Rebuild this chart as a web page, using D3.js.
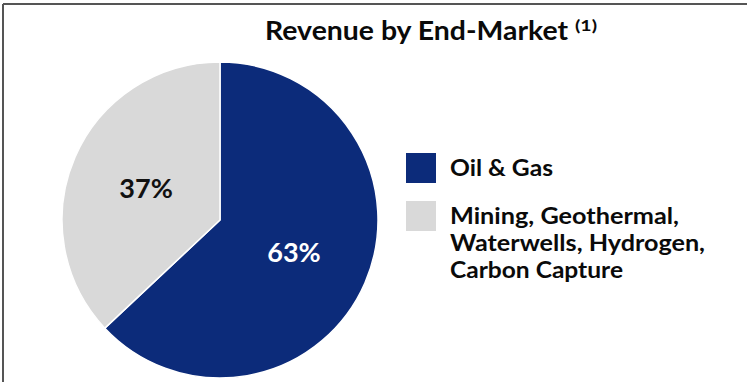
<!DOCTYPE html>
<html>
<head>
<meta charset="utf-8">
<script src="https://cdn.jsdelivr.net/npm/d3@7"></script>
<style>
  html, body { margin: 0; padding: 0; background: #fff; }
  svg { display: block; }
  text { font-family: Lato, "Open Sans", sans-serif; font-weight: 700; }
</style>
</head>
<body>
<svg id="chart" width="747" height="382"></svg>
<script>
const categories = ["Oil & Gas", "Mining, Geothermal, Waterwells, Hydrogen, Carbon Capture"];
const legendLines = [["Oil & Gas"], ["Mining, Geothermal,", "Waterwells, Hydrogen,", "Carbon Capture"]];
const values = [63, 37];
const labels = ["63%", "37%"];
const colors = ["#0c2b7a", "#d9d9d9"];
const labelColors = ["#ffffff", "#111111"];
const titleText = "Revenue by End-Market";
const titleNote = "(1)";

// layout-only widths (px) used to fit text to the reference
const legendWidths = [[103], [229, 255, 173]];

const svg = d3.select("#chart");
const W = 747, H = 382;

// frame (top and left border)
svg.append("line").attr("x1", 3).attr("x2", W).attr("y1", 4).attr("y2", 4)
  .attr("stroke", "#555").attr("stroke-width", 2);
svg.append("line").attr("x1", 3).attr("x2", 3).attr("y1", 4).attr("y2", H)
  .attr("stroke", "#555").attr("stroke-width", 2);

// title
svg.append("text").attr("x", 265).attr("y", 40)
  .attr("font-size", 26).attr("fill", "#0a0a0a")
  .attr("textLength", 303).attr("lengthAdjust", "spacingAndGlyphs")
  .text(titleText);
svg.append("text").attr("x", 575).attr("y", 31)
  .attr("font-size", 15).attr("fill", "#0a0a0a")
  .attr("textLength", 22).attr("lengthAdjust", "spacingAndGlyphs")
  .text(titleNote);

// pie
const cx = 220, cy = 220, R = 158;
const pie = d3.pie().sort(null).value(d => d)(values);
const arc = d3.arc().innerRadius(0).outerRadius(R);
const labelArc = d3.arc().innerRadius(R * 0.51).outerRadius(R * 0.51);
const g = svg.append("g").attr("transform", `translate(${cx},${cy})`);
g.selectAll("path").data(pie).join("path")
  .attr("d", arc)
  .attr("fill", (d, i) => colors[i])
  .attr("stroke", "#fff").attr("stroke-width", 1.5).attr("stroke-linejoin", "round");
g.selectAll("text.lbl").data(pie).join("text").attr("class", "lbl")
  .attr("transform", d => `translate(${labelArc.centroid(d)})`)
  .attr("text-anchor", "middle").attr("dy", "0.36em")
  .attr("font-size", 27)
  .attr("fill", (d, i) => labelColors[i])
  .text((d, i) => labels[i]);

// legend
const legY = [153, 201];
const lg = svg.append("g");
categories.forEach((c, i) => {
  lg.append("rect").attr("x", 406).attr("y", legY[i]).attr("width", 30).attr("height", 30)
    .attr("fill", colors[i]);
  legendLines[i].forEach((ln, j) => {
    lg.append("text").attr("x", 450).attr("y", legY[i] + 23 + j * 27)
      .attr("font-size", 23).attr("fill", "#0a0a0a")
      .attr("textLength", legendWidths[i][j]).attr("lengthAdjust", "spacingAndGlyphs")
      .text(ln);
  });
});
</script>
</body>
</html>
